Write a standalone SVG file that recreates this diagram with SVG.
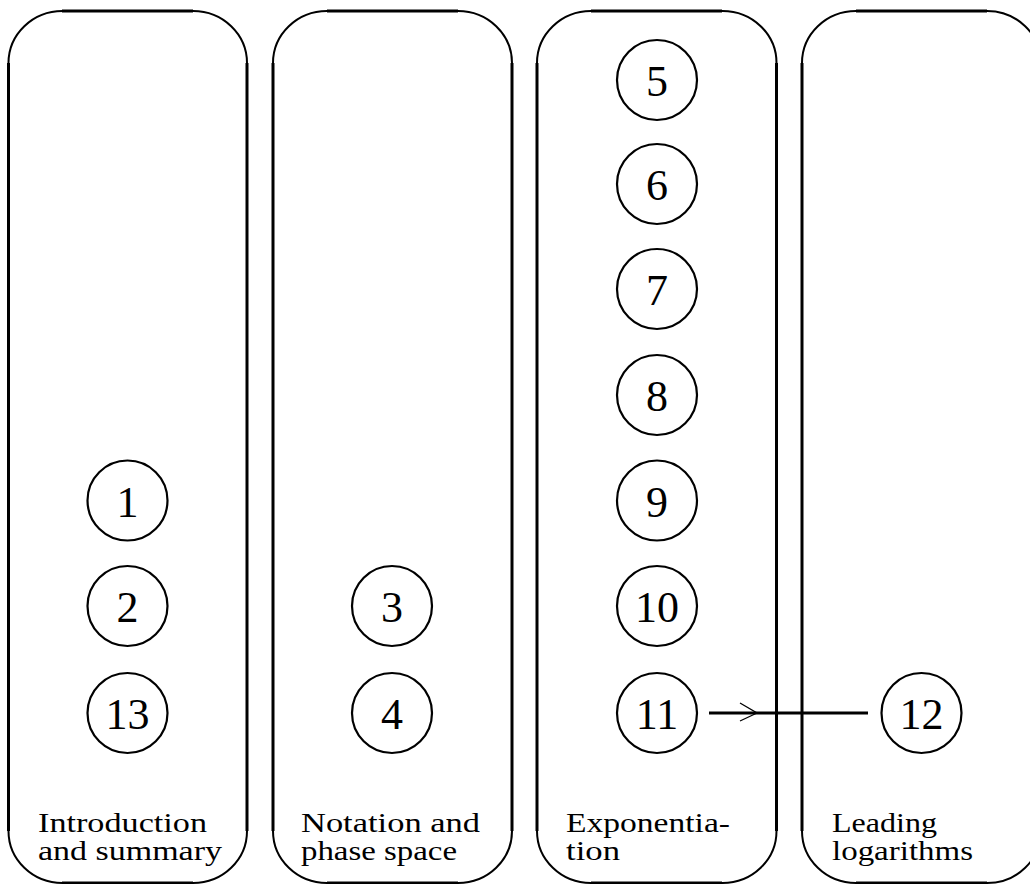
<svg xmlns="http://www.w3.org/2000/svg" width="1030" height="884" viewBox="0 0 1030 884">
<style>
.box{fill:none;stroke:#000;stroke-width:2}
.edge{stroke:#000;stroke-width:3;fill:none}
.node circle{fill:#fff;stroke:#000;stroke-width:2.2}
.num{font-family:"Liberation Serif",serif;font-size:44px;text-anchor:middle;fill:#000}
.lbl{font-family:"Liberation Serif",serif;font-size:28px;fill:#000}
.conn{stroke:#000;stroke-width:3;fill:none}
.head{stroke:#000;stroke-width:1.3;fill:none}
</style>
<g id="group-intro">
<rect class="box" x="8.5" y="11" width="238.5" height="872" rx="54" ry="52"/>
<path class="edge" d="M8.5 63V831M247 63V831M62 11H193M62 883H193"/>
<text class="lbl" x="38" y="832" textLength="169" lengthAdjust="spacingAndGlyphs">Introduction</text>
<text class="lbl" x="38" y="860" textLength="184" lengthAdjust="spacingAndGlyphs">and summary</text>
</g>
<g id="group-notation">
<rect class="box" x="273" y="11" width="239" height="872" rx="54" ry="52"/>
<path class="edge" d="M273 63V831M512 63V831M327 11H458M327 883H458"/>
<text class="lbl" x="301" y="832" textLength="179" lengthAdjust="spacingAndGlyphs">Notation and</text>
<text class="lbl" x="301" y="860" textLength="156" lengthAdjust="spacingAndGlyphs">phase space</text>
</g>
<g id="group-expo">
<rect class="box" x="537" y="11" width="239.5" height="872" rx="54" ry="52"/>
<path class="edge" d="M537 63V831M776.5 63V831M591 11H722M591 883H722"/>
<text class="lbl" x="566" y="832" textLength="164" lengthAdjust="spacingAndGlyphs">Exponentia-</text>
<text class="lbl" x="566" y="860" textLength="54" lengthAdjust="spacingAndGlyphs">tion</text>
</g>
<g id="group-leading">
<rect class="box" x="802" y="11" width="239" height="872" rx="54" ry="52"/>
<path class="edge" d="M802 63V831M856 11H987M856 883H987"/>
<text class="lbl" x="832" y="832" textLength="105" lengthAdjust="spacingAndGlyphs">Leading</text>
<text class="lbl" x="832" y="860" textLength="141" lengthAdjust="spacingAndGlyphs">logarithms</text>
</g>
<g id="connectors">
<line class="conn" x1="709" y1="713" x2="868" y2="713"/>
<polyline class="head" points="740,703 757,713 740,721"/>
</g>
<g id="n1" class="node"><circle cx="127.5" cy="500.5" r="40"/><text class="num" x="127.5" y="517">1</text></g>
<g id="n2" class="node"><circle cx="127.5" cy="606" r="40"/><text class="num" x="127.5" y="622">2</text></g>
<g id="n13" class="node"><circle cx="127.5" cy="713" r="40"/><text class="num" x="127.5" y="729">13</text></g>
<g id="n3" class="node"><circle cx="392" cy="606" r="40"/><text class="num" x="392" y="622">3</text></g>
<g id="n4" class="node"><circle cx="392" cy="713" r="40"/><text class="num" x="392" y="729">4</text></g>
<g id="n5" class="node"><circle cx="657" cy="80" r="40"/><text class="num" x="657" y="96">5</text></g>
<g id="n6" class="node"><circle cx="657" cy="184" r="40"/><text class="num" x="657" y="200">6</text></g>
<g id="n7" class="node"><circle cx="657" cy="289" r="40"/><text class="num" x="657" y="305">7</text></g>
<g id="n8" class="node"><circle cx="657" cy="395" r="40"/><text class="num" x="657" y="411">8</text></g>
<g id="n9" class="node"><circle cx="657" cy="500.5" r="40"/><text class="num" x="657" y="517">9</text></g>
<g id="n10" class="node"><circle cx="657" cy="606" r="40"/><text class="num" x="657" y="622">10</text></g>
<g id="n11" class="node"><circle cx="657" cy="713" r="40"/><text class="num" x="657" y="729">11</text></g>
<g id="n12" class="node"><circle cx="921.5" cy="713" r="40"/><text class="num" x="921.5" y="729">12</text></g>
</svg>
